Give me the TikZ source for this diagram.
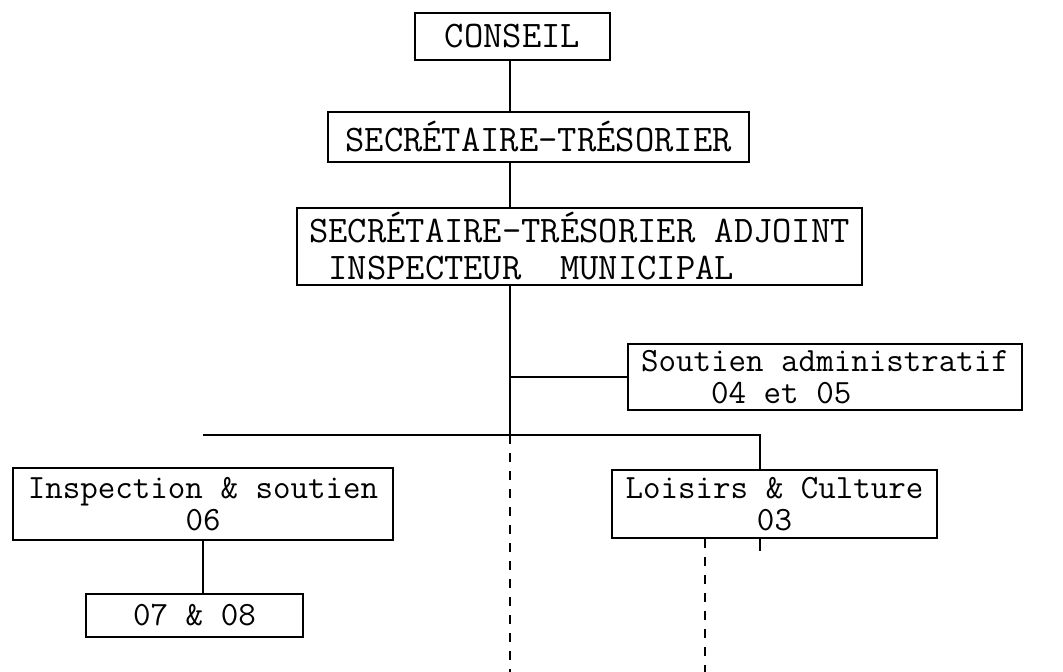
\documentclass[tikz,border=0pt]{standalone}
\usepackage{fontspec}
\usetikzlibrary{positioning}

\begin{document}
\begin{tikzpicture}[
    x=1pt, y=-1pt,
    every node/.style={font=\ttfamily},
    box/.style={draw, line width=2.2pt, inner sep=0pt, align=center},
    capsbox/.style={box, font=\ttfamily\fontsize{37.5}{37}\selectfont},
    lowbox/.style={box, font=\ttfamily\fontsize{34}{32.5}\selectfont},
    link/.style={line width=2.6pt},
    dotlink/.style={line width=1.8pt, dash pattern=on 9pt off 9pt}
]

   % frame of the page
   \useasboundingbox (0,0) rectangle (1063,672);

   % upper chain
   \node[capsbox, minimum width=195pt, minimum height=47pt] (conseil) at (512.5,36.5) {CONSEIL};
   \node[capsbox, minimum width=421pt, minimum height=50pt] (sectres) at (538.5,137) {SECRÉTAIRE-TRÉSORIER};
   \node[capsbox, minimum width=565pt, minimum height=77pt, align=left] (adjoint) at (579.5,246.5)
       {SECRÉTAIRE-TRÉSORIER ADJOINT\\\phantom{X}INSPECTEUR\phantom{XX}MUNICIPAL};

   % services
   \node[lowbox, minimum width=394pt, minimum height=66pt, align=left] (soutadm) at (825,377)
       {Soutien administratif\\\phantom{0000}04 et 05};
   \node[lowbox, minimum width=380pt, minimum height=72pt] (inspect) at (203,504) {Inspection \& soutien\\06};
   \node[lowbox, minimum width=325pt, minimum height=68pt] (loisirs) at (774.5,504) {Loisirs \& Culture\\03};
   \node[lowbox, minimum width=217pt, minimum height=43pt] (zerosept) at (194.5,615.5) {07 \& 08};

   % helper points
   \coordinate (spine) at (510,0);
   \coordinate (branch) at (510,435);
   \coordinate (droploi) at (760,435);
   \coordinate (dashend) at (510,672);
   \coordinate (dashr) at (705,672);

   % solid links
   \draw[link] (spine |- conseil.south) -- (spine |- sectres.north);
   \draw[link] (spine |- sectres.south) -- (spine |- adjoint.north);
   \draw[link] (spine |- adjoint.south) -- (branch);
   \draw[link] (spine |- soutadm.west) -- (soutadm.west);
   \draw[link] (inspect.north |- branch) -- (droploi) -- (droploi |- loisirs.north);
   \draw[link] (inspect.south) -- (inspect.south |- zerosept.north);
   \draw[link] (droploi |- loisirs.south) -- ++(0,12);

   % dashed links
   \draw[dotlink] (branch) -- (dashend);
   \draw[dotlink, line width=1.2pt] (dashr |- loisirs.south) -- (dashr);
\end{tikzpicture}
\end{document}
